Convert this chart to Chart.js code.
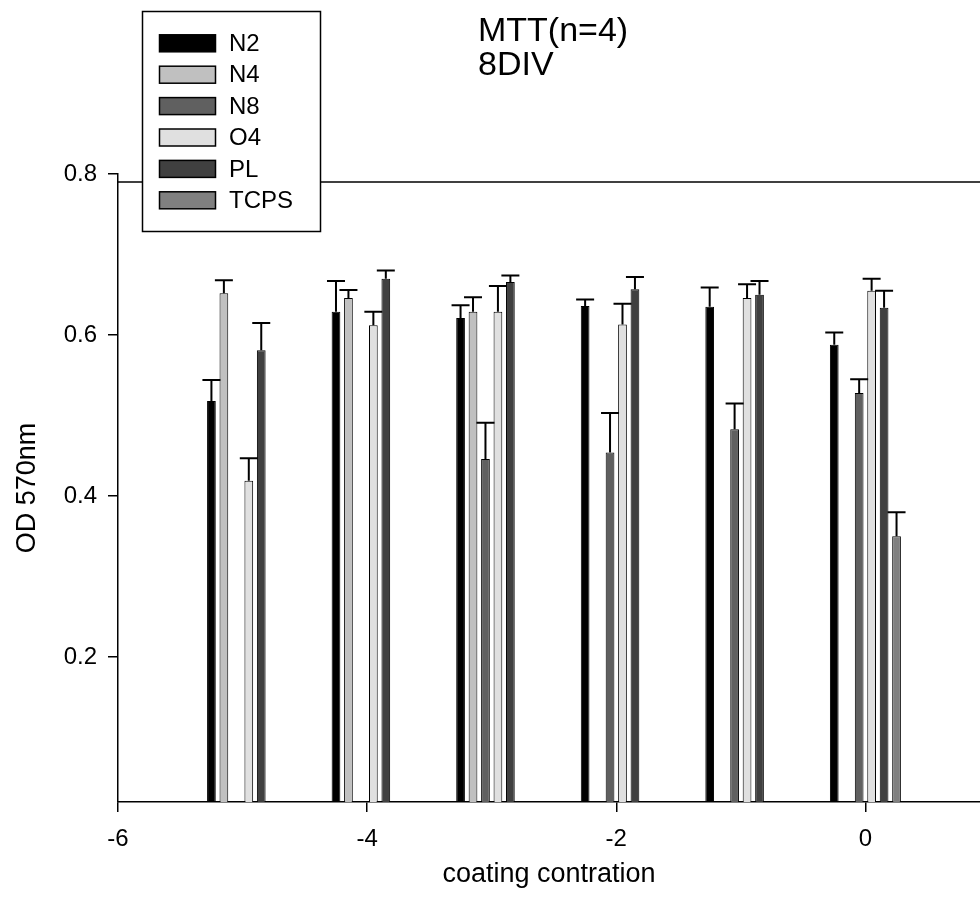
<!DOCTYPE html>
<html>
<head>
<meta charset="utf-8">
<title>MTT(n=4) 8DIV</title>
<script src="https://cdn.jsdelivr.net/npm/chart.js@4.4.1/dist/chart.umd.min.js"></script>
<style>
  html, body { margin: 0; padding: 0; background: #fff; overflow: hidden; }
  canvas { display: block; }
</style>
</head>
<body>
<canvas id="mttChart" width="980" height="907"></canvas>
<script>
// group positions (log coating concentration)
const concentrations = [-5, -4, -3, -2, -1, 0];

const seriesNames = ['N2', 'N4', 'N8', 'O4', 'PL', 'TCPS'];
const seriesColors = ['#000000', '#c0c0c0', '#606060', '#e0e0e0', '#404040', '#808080'];

// OD 570nm, null = no bar
const n2 = [0.518, 0.629, 0.621, 0.636, 0.635, 0.588];
const n4 = [0.652, 0.646, 0.629, null, null, null];
const n8 = [null, null, 0.446, 0.454, 0.483, 0.528];
const o4 = [0.419, 0.612, 0.629, 0.613, 0.646, 0.655];
const pl = [0.581, 0.670, 0.666, 0.657, 0.650, 0.634];
const tcps = [null, null, null, null, null, 0.350];

// upper error bars
const n2Err = [0.026, 0.038, 0.016, 0.008, 0.024, 0.015];
const n4Err = [0.016, 0.010, 0.018, null, null, null];
const n8Err = [null, null, 0.045, 0.049, 0.032, 0.017];
const o4Err = [0.028, 0.017, 0.032, 0.026, 0.017, 0.015];
const plErr = [0.034, 0.010, 0.008, 0.015, 0.017, 0.021];
const tcpsErr = [null, null, null, null, null, 0.030];

const xTicks = [-6, -4, -2, 0];
const yTicks = [0.2, 0.4, 0.6, 0.8];
const topLineValue = 0.79;

const titleLines = ['MTT(n=4)', '8DIV'];

const FONT = '"Liberation Sans", Arial, Helvetica, sans-serif';
Chart.defaults.font.family = FONT;
Chart.defaults.color = '#000';

const values = [n2, n4, n8, o4, pl, tcps];
const errors = [n2Err, n4Err, n8Err, o4Err, plErr, tcpsErr];

const datasets = seriesNames.map((name, i) => ({
  label: name,
  data: concentrations.map((x, j) => ({ x: x, y: values[i][j] })),
  errors: errors[i],
  backgroundColor: seriesColors[i],
  borderColor: '#000',
  borderWidth: 1,
  borderSkipped: 'start',
  categoryPercentage: 0.6,
  barPercentage: 0.7
}));

const errorBars = {
  id: 'errorBars',
  afterDatasetsDraw(chart) {
    const { ctx } = chart;
    const y = chart.scales.y;
    ctx.save();
    ctx.strokeStyle = '#000';
    ctx.lineWidth = 2;
    chart.data.datasets.forEach((ds, i) => {
      chart.getDatasetMeta(i).data.forEach((bar, j) => {
        const v = ds.data[j].y;
        const e = ds.errors[j];
        if (v == null || e == null) return;
        const top = y.getPixelForValue(v + e);
        ctx.beginPath();
        ctx.moveTo(bar.x, bar.y);
        ctx.lineTo(bar.x, top);
        ctx.moveTo(bar.x - 9, top);
        ctx.lineTo(bar.x + 9, top);
        ctx.stroke();
      });
    });
    ctx.restore();
  }
};

// top frame line, legend box and title
const decorations = {
  id: 'decorations',
  beforeDatasetsDraw(chart) {
    const { ctx, chartArea } = chart;
    const yy = chart.scales.y.getPixelForValue(topLineValue);
    ctx.save();
    ctx.strokeStyle = '#000';
    ctx.lineWidth = 1.5;
    ctx.beginPath();
    ctx.moveTo(chartArea.left, yy);
    ctx.lineTo(chartArea.right, yy);
    ctx.stroke();
    ctx.restore();
  },
  afterDraw(chart) {
    const { ctx } = chart;
    ctx.save();
    // legend
    ctx.fillStyle = '#fff';
    ctx.fillRect(142.5, 11.5, 178, 220);
    ctx.strokeStyle = '#000';
    ctx.lineWidth = 1.5;
    ctx.strokeRect(142.5, 11.5, 178, 220);
    ctx.font = '24px ' + FONT;
    ctx.textBaseline = 'middle';
    ctx.textAlign = 'left';
    chart.data.datasets.forEach((ds, i) => {
      const cy = 43.3 + i * 31.4;
      ctx.fillStyle = ds.backgroundColor;
      ctx.fillRect(159.5, cy - 8.5, 56, 17);
      ctx.lineWidth = 1.5;
      ctx.strokeRect(159.5, cy - 8.5, 56, 17);
      ctx.fillStyle = '#000';
      ctx.fillText(ds.label, 229, cy + 1);
    });
    // title
    ctx.font = '34px ' + FONT;
    ctx.textBaseline = 'alphabetic';
    ctx.fillStyle = '#000';
    titleLines.forEach((t, i) => ctx.fillText(t, 478, 41 + i * 34));
    ctx.restore();
  }
};

new Chart(document.getElementById('mttChart'), {
  type: 'bar',
  data: { datasets: datasets },
  options: {
    responsive: false,
    animation: false,
    layout: { padding: { top: 174, right: 0, bottom: 0, left: 0 } },
    plugins: {
      legend: { display: false },
      tooltip: { enabled: false },
      title: { display: false }
    },
    scales: {
      x: {
        type: 'linear',
        min: -6,
        max: 0.92,
        offset: false,
        afterBuildTicks: s => { s.ticks = xTicks.map(v => ({ value: v })); },
        afterFit: s => { s.height = 105; },
        grid: { offset: false, drawOnChartArea: false, drawTicks: true, tickLength: 10, color: '#000', lineWidth: 1.5 },
        border: { color: '#000', width: 1.5 },
        ticks: { font: { size: 24 }, color: '#000', padding: 13, maxRotation: 0 },
        title: { display: true, text: 'coating contration', font: { size: 27 }, color: '#000', padding: { top: 0, bottom: 16 } }
      },
      y: {
        min: 0.02,
        max: 0.8,
        afterBuildTicks: s => { s.ticks = yTicks.map(v => ({ value: v })); },
        afterFit: s => { s.width = 118; },
        grid: { drawOnChartArea: false, drawTicks: true, tickLength: 10, color: '#000', lineWidth: 1.5 },
        border: { color: '#000', width: 1.5 },
        ticks: { font: { size: 24 }, color: '#000', padding: 11, callback: v => v.toFixed(1) },
        title: { display: true, text: 'OD 570nm', font: { size: 27 }, color: '#000', padding: { top: 11, bottom: 0 } }
      }
    }
  },
  plugins: [errorBars, decorations]
});
</script>
</body>
</html>
